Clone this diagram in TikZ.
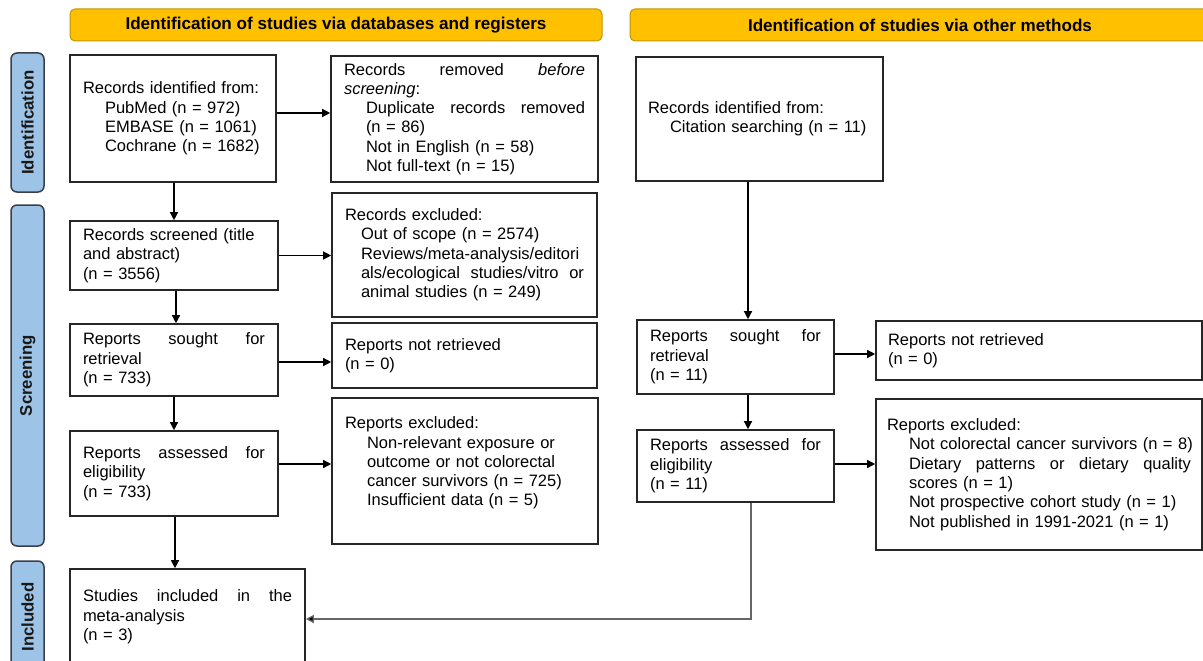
\documentclass[tikz,border=0pt]{standalone}
\usepackage{fontspec}
\setmainfont{Liberation Sans}
\usetikzlibrary{arrows.meta}
\definecolor{hdrY}{HTML}{FFC000}
\definecolor{hdrB}{HTML}{C29400}
\definecolor{sideF}{HTML}{9DC3E6}
\definecolor{sideB}{HTML}{3A3F47}
\newcommand\indA{\hspace*{22pt}}
\newcommand\indB{\hspace*{16pt}}
\newcommand\jsp{\hskip 0pt plus 1filll\relax}
\begin{document}
\begin{tikzpicture}[x=1pt,y=-1pt,
  bx/.style n args={3}{draw=black!85, line width=1.6pt, fill=white, align=left,
    text width=#1pt, inner xsep=#2pt, inner ysep=2pt, minimum height=#3pt,
    font=\fontsize{16.5}{19.3}\selectfont},
  hdr/.style={draw=hdrB, fill=hdrY, line width=1pt, rounded corners=5pt,
    minimum height=32pt, inner sep=0pt, font=\bfseries\fontsize{17.1}{19}\selectfont},
  side/.style={draw=sideB, fill=sideF, line width=1.5pt, rounded corners=6pt,
    rotate=90, minimum height=33pt, inner sep=0pt, text=black!90,
    font=\bfseries\fontsize{16.8}{19}\selectfont},
  arr/.style={draw=black, line width=1.3pt, -{Triangle[length=8pt,width=8pt]}},
  garr/.style={draw=black!60, line width=1.3pt, -{Triangle[length=8pt,width=8pt,fill=black]}}
]
\useasboundingbox (0,0) rectangle (1203,661);
\clip (0,0) rectangle (1203,661);

% headers
\node[hdr, minimum width=532pt] (H1) at (336,25) {Identification of studies via databases and registers};
\node[hdr, minimum width=580pt] (H2) at (920,25) {Identification of studies via other methods};

% side bars
\node[side, minimum width=139pt] (S1) at (27.5,122.5) {Identification};
\node[side, minimum width=341pt] (S2) at (27.5,375.5) {Screening};
\node[side, minimum width=112pt] (S3) at (27.5,617) {Included};

% left column
\node[bx={180}{13}{127}] (L1) at (173,118.5) {Records identified from:\\\indA PubMed (n = 972)\\\indA EMBASE (n = 1061)\\\indA Cochrane (n = 1682)};
\node[bx={241}{13}{126}] (R1) at (464.5,119) {Records\jsp removed\jsp \textit{before}\\\textit{screening}:\\\indA Duplicate\jsp records\jsp removed\\\indA (n = 86)\\\indA Not in English (n = 58)\\\indA Not full-text (n = 15)};
\node[bx={182}{13}{69}] (L2) at (174,255.5) {Records screened (title\\and abstract)\\(n = 3556)};
\node[bx={239}{13}{124}] (R2) at (464.5,255) {Records excluded:\\\indB Out of scope (n = 2574)\\\indB Reviews/meta-analysis/editori\\\indB als/ecological\jsp studies/vitro\jsp or\\\indB animal studies (n = 249)};
\node[bx={182}{13}{72}] (L3) at (174,360) {Reports\jsp sought\jsp for\\retrieval\\(n = 733)};
\node[bx={239}{13}{65}] (R3) at (464.5,355.5) {Reports not retrieved\\(n = 0)};
\node[bx={182}{13}{85}] (L4) at (174,473.5) {Reports\jsp assessed\jsp for\\eligibility\\(n = 733)};
\node[bx={240}{13}{146}] (R4) at (465,471) {Reports excluded:\\\indA Non-relevant exposure or\\\indA outcome or not colorectal\\\indA cancer survivors (n = 725)\\\indA Insufficient data (n = 5)\\\mbox{}};
\node[bx={209}{13}{96}] (L5) at (187.5,617) {Studies\jsp included\jsp in\jsp the\\meta-analysis\\(n = 3)};

% right column
\node[bx={223}{12}{124}] (M1) at (759.5,119) {Records identified from:\\\indA Citation searching (n = 11)};
\node[bx={171}{13}{74}] (M3) at (735.5,357) {Reports\jsp sought\jsp for\\retrieval\\(n = 11)};
\node[bx={171}{13}{72}] (M4) at (735.5,466) {Reports\jsp assessed\jsp for\\eligibility\\(n = 11)};
\node[bx={302}{12}{59}] (N3) at (1039,350.5) {Reports not retrieved\\(n = 0)};
\node[bx={304}{11}{151}] (N4) at (1039,474.5) {Reports excluded:\\\indA\mbox{Not colorectal cancer survivors (n = 8)}\\\indA Dietary\jsp patterns\jsp or\jsp dietary\jsp quality\\\indA scores (n = 1)\\\indA Not prospective cohort study (n = 1)\\\indA Not published in 1991-2021 (n = 1)};

% helper coordinates
\coordinate (a1) at ([yshift=5.5pt]L1.east);
\coordinate (a4) at ([yshift=9.5pt]L4.east);
\coordinate (a3) at ([yshift=-2pt]L3.east);
\coordinate (m3) at ([yshift=3pt]M3.east);
\coordinate (m4) at ([yshift=2pt]M4.east);
\coordinate (v1) at ([xshift=12.5pt]M3.north);
\coordinate (v2) at ([xshift=12.5pt]M3.south);
\coordinate (v3) at ([xshift=12.5pt]M4.north);
\coordinate (v4) at ([xshift=15.5pt]M4.south);
\coordinate (c1) at (751,619);

% connectors left
\draw[arr] (L2.north |- L1.south) -- (L2.north);
\draw[arr] ([xshift=2pt]L2.south) -- ([xshift=2pt]L3.north);
\draw[arr] (L3.south) -- (L4.north);
\draw[arr] ([xshift=1pt]L4.south) -- ([xshift=1pt]L4.south |- L5.north);
\draw[arr] (a1) -- (a1 -| R1.west);
\draw[arr] (L2.east) -- (L2.east -| R2.west);
\draw[arr] (a3) -- (a3 -| R3.west);
\draw[arr] (a4) -- (a4 -| R4.west);

% connectors right
\draw[arr] (v1 |- M1.south) -- (v1);
\draw[arr] (v2) -- (v3);
\draw[arr] (m3) -- (m3 -| N3.west);
\draw[arr] (m4) -- (m4 -| N4.west);
\draw[garr] (v4) |- (L5.east |- c1);
\end{tikzpicture}
\end{document}
